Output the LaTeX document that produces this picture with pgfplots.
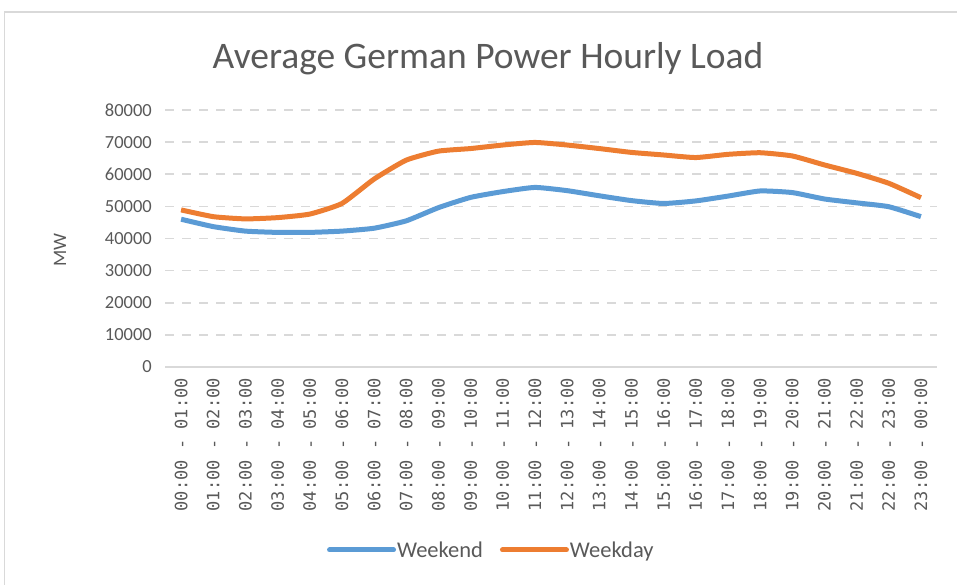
\documentclass[border=0pt]{standalone}
\usepackage{pgfplots}
\pgfplotsset{compat=1.18}
\usepackage{fontspec}
\setmainfont{Carlito}
\newfontfamily\tickmono{DejaVu Sans Mono}
\definecolor{textgray}{HTML}{595959}
\definecolor{gridgray}{HTML}{D9D9D9}
\definecolor{xlblue}{HTML}{5B9BD5}
\definecolor{xlorange}{HTML}{ED7D31}
\begin{document}
\begin{tikzpicture}
\useasboundingbox (0pt,0pt) rectangle (957pt,584pt);
\draw[line width=1.2pt, draw=gridgray] (4.5pt,-20pt) -- (4.5pt,572pt) -- (990pt,572pt);
\node[font=\fontsize{37.5}{44}\selectfont, text=textgray] at (488pt,525pt) {Average German Power Hourly Load};
\begin{axis}[
  at={(165pt,217pt)}, anchor=south west,
  scale only axis, width=772pt, height=257pt,
  xmin=-0.5, xmax=23.5, ymin=0, ymax=80000,
  axis x line*=bottom, axis y line*=left,
  axis line style={-},
  x axis line style={draw=gridgray, line width=1.5pt},
  y axis line style={draw=none},
  major tick length=0pt,
  tick style={draw=none},
  scaled y ticks=false,
  ymajorgrids,
  major grid style={draw=gridgray, line width=1.6pt, dash pattern=on 9pt off 8pt},
  xtick={0,...,23},
  xticklabels={00:00 - 01:00,01:00 - 02:00,02:00 - 03:00,03:00 - 04:00,04:00 - 05:00,05:00 - 06:00,06:00 - 07:00,07:00 - 08:00,08:00 - 09:00,09:00 - 10:00,10:00 - 11:00,11:00 - 12:00,12:00 - 13:00,13:00 - 14:00,14:00 - 15:00,15:00 - 16:00,16:00 - 17:00,17:00 - 18:00,18:00 - 19:00,19:00 - 20:00,20:00 - 21:00,21:00 - 22:00,22:00 - 23:00,23:00 - 00:00},
  xticklabel style={rotate=90, anchor=east, inner sep=0pt, xshift=-11pt, font=\tickmono\fontsize{17}{19}\selectfont, text=textgray},
  ytick={0,10000,20000,30000,40000,50000,60000,70000,80000},
  yticklabels={0,10000,20000,30000,40000,50000,60000,70000,80000},
  yticklabel style={anchor=east, inner sep=0pt, xshift=-13pt, font=\fontsize{18.5}{22}\selectfont, text=textgray},
  ylabel={MW},
  ylabel style={at={(axis description cs:-0.136,0.455)}, anchor=center, font=\fontsize{19}{22}\selectfont, text=textgray},
  legend columns=2,
  legend style={draw=none, fill=none, at={(axis description cs:0.422,-0.712)}, anchor=center,
    font=\fontsize{22.5}{26}\selectfont, text=textgray,
    /tikz/every even column/.append style={column sep=16pt},
    nodes={inner sep=1pt}},
  legend image code/.code={\draw[#1, line cap=round] (0pt,0pt) -- (64pt,0pt);},
  every axis plot/.append style={line width=5pt, smooth, tension=0.3, line join=round},
]
\addplot[xlblue] coordinates {
(0,46000) (1,43700) (2,42300) (3,41900) (4,41900) (5,42300) (6,43200) (7,45500)
(8,49600) (9,52800) (10,54600) (11,55900) (12,54900) (13,53300) (14,51800) (15,50900)
(16,51700) (17,53200) (18,54800) (19,54300) (20,52300) (21,51100) (22,49900) (23,46800)};
\addlegendentry{Weekend}
\addplot[xlorange] coordinates {
(0,48900) (1,46800) (2,46100) (3,46500) (4,47600) (5,50900) (6,58500) (7,64400)
(8,67200) (9,68000) (10,69100) (11,69900) (12,69100) (13,68000) (14,66800) (15,66000)
(16,65200) (17,66200) (18,66700) (19,65700) (20,62900) (21,60300) (22,57200) (23,52700)};
\addlegendentry{Weekday}
\end{axis}
\end{tikzpicture}
\end{document}
